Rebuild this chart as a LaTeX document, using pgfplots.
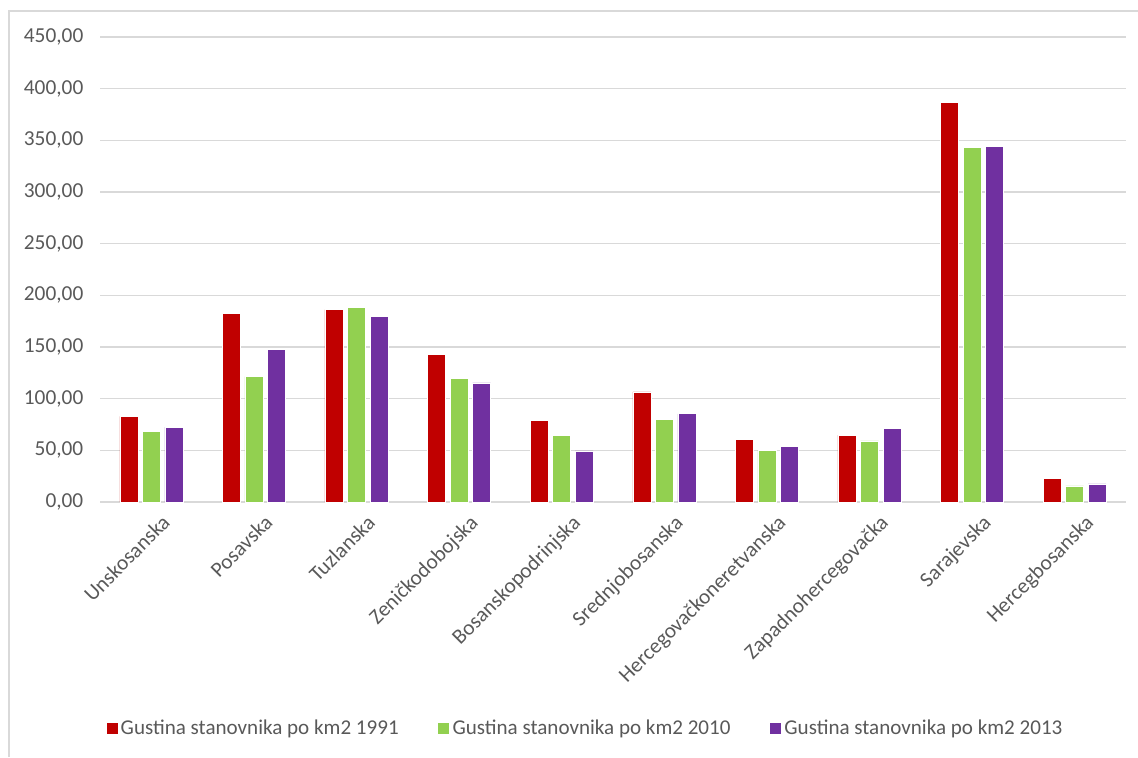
\documentclass[border=0pt]{standalone}
\usepackage{fontspec}
\setmainfont{Carlito}
\usepackage{pgfplots}
\pgfplotsset{compat=1.18}
\definecolor{cred}{RGB}{192,0,0}
\definecolor{cgreen}{RGB}{146,208,80}
\definecolor{cpurple}{RGB}{112,48,160}
\definecolor{ctext}{RGB}{89,89,89}
\definecolor{cgrid}{RGB}{217,217,217}
\begin{document}
\begin{tikzpicture}
\useasboundingbox (0,0) rectangle (853.5pt,567.75pt);
\draw[cgrid, line width=1.3pt] (6.75pt,0pt) -- (6.75pt,559.5pt) -- (853.5pt,559.5pt);
\begin{axis}[
  at={(75pt,191.25pt)}, anchor=south west,
  scale only axis, width=769.5pt, height=348.75pt,
  xmin=-0.5, xmax=9.5, ymin=0, ymax=450,
  ybar=3.4pt, bar width=13.5pt,
  ytick={0,50,...,450},
  xtick={0,...,9},
  xticklabels={Unskosanska,Posavska,Tuzlanska,Zeničkodobojska,Bosanskopodrinjska,Srednjobosanska,Hercegovačkoneretvanska,Zapadnohercegovačka,Sarajevska,Hercegbosanska},
  ymajorgrids, grid style={cgrid, line width=0.8pt},
  axis x line*=bottom, axis y line*=left,
  x axis line style={cgrid, line width=0.8pt, -},
  y axis line style={draw=none},
  major tick length=0pt,
  tick label style={font=\fontsize{16}{19}\selectfont, text=ctext},
  yticklabel style={xshift=-9pt},
  xticklabel style={rotate=45, anchor=north east, inner sep=2pt, xshift=1pt, yshift=-9pt},
  /pgf/number format/.cd, fixed, fixed zerofill, precision=2, use comma, 1000 sep={}, assume math mode=true,
  /pgfplots/.cd,
  legend style={at={(0.473,-0.486)}, anchor=center, legend columns=3, draw=none,
    font=\fontsize{15.8}{19}\selectfont, text=ctext,
    /tikz/every even column/.append style={column sep=27pt}},
  legend image code/.code={\fill[#1] (0pt,-4.5pt) rectangle (9pt,4.5pt);},
]
\addplot[fill=cred, draw=white, line width=0.4pt] coordinates {(0,82.9) (1,182.9) (2,186.1) (3,142.8) (4,79.3) (5,106.5) (6,60.5) (7,64.7) (8,386.9) (9,23.0)};
\addplot[fill=cgreen, draw=white, line width=0.4pt] coordinates {(0,68.6) (1,121.4) (2,188.3) (3,119.4) (4,64.7) (5,80.3) (6,50.2) (7,59.2) (8,342.9) (9,15.5)};
\addplot[fill=cpurple, draw=white, line width=0.4pt] coordinates {(0,72.5) (1,148.0) (2,179.6) (3,115.2) (4,49.5) (5,85.4) (6,53.8) (7,71.5) (8,344.0) (9,17.5)};
\legend{Gustina stanovnika po km2 1991, Gustina stanovnika po km2 2010, Gustina stanovnika po km2 2013}
\end{axis}
\end{tikzpicture}
\end{document}
